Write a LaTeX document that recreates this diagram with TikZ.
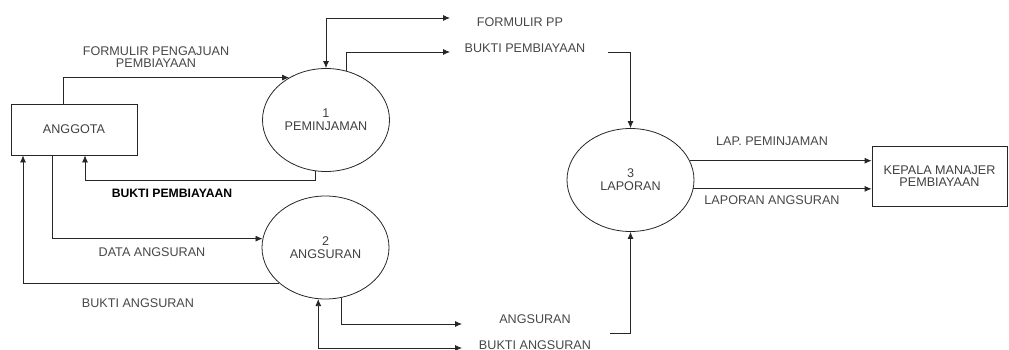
\documentclass[tikz,border=0pt]{standalone}
\usepackage{fontspec}
\setmainfont{Liberation Sans}
\usetikzlibrary{shapes.geometric,arrows.meta}
\tikzset{
  entbox/.style={draw=black!85,line width=0.8pt,minimum width=126pt,minimum height=51pt,inner sep=0pt,align=center,text=black!75,font=\fontsize{12.6}{12.5}\selectfont},
  proc/.style={draw=black!85,line width=0.8pt,ellipse,minimum width=127pt,minimum height=103pt,inner sep=0pt,align=center,text=black!75,font=\fontsize{12.6}{13}\selectfont},
  lbl/.style={inner sep=0pt,align=center,text=black!72,font=\fontsize{12.6}{11.8}\selectfont},
  flow/.style={draw=black!85,line width=0.8pt,-{Latex[length=7pt,width=6pt]}},
  flow2/.style={draw=black!85,line width=0.8pt,{Latex[length=7pt,width=6pt]}-{Latex[length=7pt,width=6pt]}}
}
\begin{document}
\begin{tikzpicture}[x=1pt,y=-1pt]
\useasboundingbox (0,0) rectangle (1009,350);
% entities and processes
\node[entbox] (ang) at (74,129.5) {ANGGOTA};
\node[entbox,minimum width=135pt,minimum height=60pt] (kmp) at (939.5,176) {KEPALA MANAJER\\PEMBIAYAAN};
\node[proc] (e1) at (326,120) {1\\PEMINJAMAN};
\node[proc] (e2) at (325.5,247.5) {2\\ANGSURAN};
\node[proc] (e3) at (630.5,180) {3\\LAPORAN};
% free ends
\coordinate (fpp) at (450,18);
\coordinate (bpe) at (450,52);
\coordinate (bp2) at (608,52);
\coordinate (ags) at (462,324);
\coordinate (bas) at (462,348);
\coordinate (ag2) at (610,333);
% connectors
\draw[flow] ([xshift=-11pt]ang.north) |- (e1.131);
\draw[flow2] (e1.north) |- (fpp);
\draw[flow] (e1.67) |- (bpe);
\draw[flow] (bp2) -| (e3.north);
\draw[flow] (e1.258) -- ++(0,9.2) -| ([xshift=11pt]ang.south);
\draw[flow] ([xshift=-22pt]ang.south) |- (e2.172);
\draw[flow] (e2.218) -| ([xshift=-51pt]ang.south);
\draw[flow] (e2.288) |- (ags);
\draw[flow2] (e2.262) |- (bas);
\draw[flow] (ag2) -| (e3.south);
\draw[flow] (e3.18) -- (e3.18 -| kmp.west);
\draw[flow] (e3.-8) -- (e3.-8 -| kmp.west);
% labels
\node[lbl] (l1) at (156,57.5) {FORMULIR PENGAJUAN\\PEMBIAYAAN};
\node[lbl] (l2) at (520,22) {FORMULIR PP};
\node[lbl] (l3) at (525,48) {BUKTI PEMBIAYAAN};
\node[lbl,text=black,font=\fontsize{12.2}{12}\selectfont\bfseries] (l4) at (172,193) {BUKTI PEMBIAYAAN};
\node[lbl] (l5) at (152,252) {DATA ANGSURAN};
\node[lbl] (l6) at (138,303) {BUKTI ANGSURAN};
\node[lbl] (l7) at (535,319) {ANGSURAN};
\node[lbl] (l8) at (535,345) {BUKTI ANGSURAN};
\node[lbl] (l9) at (772,141) {LAP. PEMINJAMAN};
\node[lbl] (l10) at (772,200) {LAPORAN ANGSURAN};
\end{tikzpicture}
\end{document}
